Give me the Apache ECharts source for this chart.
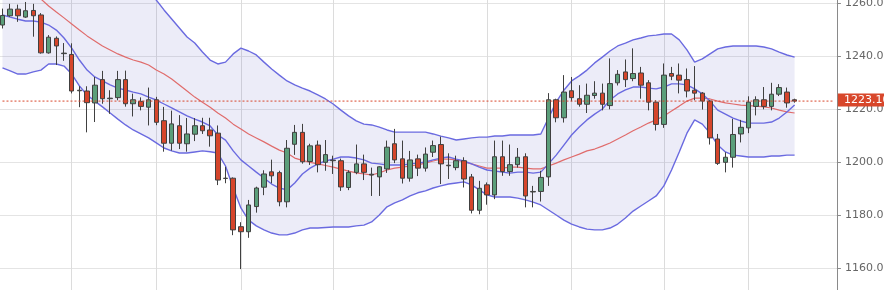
<!DOCTYPE html>
<html><head><meta charset="utf-8">
<script src="https://cdn.jsdelivr.net/npm/echarts@6/dist/echarts.min.js"></script>
<style>html,body{margin:0;padding:0;background:#fff}#c{width:884px;height:290px}</style>
</head><body><div id="c"></div>
<script>
// 104 candles, plus 5 empty slots before the price axis
const categories = Array.from({length: 109}, (_, i) => 'D' + (i + 1));
const gridCategories = ['D10','D21','D32','D44','D64','D75','D87','D98'];
const yTicks = [1140, 1280, 20];

const opens = [1251.8,1255.3,1257.8,1254.8,1257.3,1255.6,1241.3,1246.8,1241.0,1240.7,
1227.0,1226.9,1222.4,1231.2,1224.0,1224.4,1231.2,1222.1,1223.0,1220.8,
1223.6,1215.7,1207.2,1213.8,1207.0,1210.6,1213.8,1212.2,1211.0,1193.9,
1194.0,1175.7,1173.8,1183.3,1190.6,1196.4,1196.1,1185.1,1206.8,1211.3,
1200.3,1206.5,1200.0,1200.6,1200.6,1190.5,1196.2,1199.4,1195.2,1194.5,
1197.5,1207.0,1201.3,1194.0,1201.3,1197.8,1203.8,1206.7,1198.7,1198.0,
1200.6,1194.5,1181.9,1191.5,1187.7,1202.1,1196.5,1199.1,1202.1,1188.8,
1189.0,1194.5,1223.6,1216.8,1227.0,1224.0,1221.9,1225.2,1226.1,1221.4,
1230.0,1234.1,1231.6,1233.7,1230.0,1222.7,1214.3,1233.5,1232.9,1231.2,
1227.2,1226.1,1223.1,1208.8,1200.0,1201.9,1210.7,1213.0,1221.1,1223.6,
1221.1,1225.7,1226.5,1223.6];
const closes = [1255.4,1257.8,1255.3,1257.2,1255.3,1241.3,1247.2,1243.9,1241.2,1226.9,
1227.2,1222.5,1229.1,1224.0,1224.2,1231.2,1222.1,1223.6,1221.1,1223.6,
1215.1,1207.2,1214.5,1207.2,1210.7,1213.8,1211.9,1210.0,1193.3,1194.0,
1174.5,1173.8,1183.9,1190.3,1195.6,1194.9,1185.1,1205.3,1211.3,1200.2,
1206.2,1199.1,1202.9,1200.8,1190.7,1196.2,1199.4,1196.2,1195.5,1198.3,
1205.7,1200.9,1194.0,1200.9,1197.8,1203.1,1206.3,1199.4,1198.9,1200.6,
1193.7,1181.9,1190.2,1187.7,1202.1,1196.5,1199.1,1201.9,1187.3,1189.0,
1194.3,1223.6,1216.8,1226.5,1224.4,1221.9,1225.3,1226.1,1221.9,1229.7,
1233.2,1231.2,1233.5,1229.1,1222.7,1214.3,1232.9,1232.5,1231.0,1226.9,
1226.1,1223.1,1209.2,1199.6,1201.9,1210.5,1213.2,1222.7,1223.6,1221.1,
1225.7,1228.2,1222.4,1223.1];
const lows = [1250.5,1254.9,1253.0,1254.5,1247.4,1241.0,1241.0,1236.7,1238.3,1226.0,
1220.8,1211.3,1215.2,1222.1,1218.3,1223.4,1221.0,1217.3,1219.6,1213.9,
1214.0,1204.0,1204.4,1205.0,1204.0,1208.0,1210.7,1205.9,1191.4,1192.1,
1172.5,1159.7,1171.5,1181.0,1187.6,1192.1,1183.4,1183.0,1202.8,1199.5,
1199.0,1196.2,1196.8,1195.6,1189.2,1189.5,1195.5,1193.3,1187.3,1187.3,
1196.0,1199.7,1192.0,1192.7,1194.8,1196.5,1202.0,1191.8,1193.7,1197.0,
1190.5,1180.7,1180.4,1184.0,1186.1,1194.9,1194.9,1198.0,1183.0,1183.0,
1185.2,1191.1,1215.1,1215.0,1223.0,1221.0,1218.6,1224.0,1219.6,1220.0,
1229.0,1228.4,1230.6,1224.0,1219.6,1212.0,1213.0,1231.0,1226.0,1224.5,
1223.4,1219.9,1206.7,1199.0,1196.2,1198.0,1207.5,1211.0,1217.7,1220.0,
1219.6,1225.0,1220.6,1222.5];
const highs = [1258.0,1259.8,1259.5,1260.5,1259.8,1256.3,1248.0,1247.5,1245.0,1244.9,
1228.7,1228.7,1232.2,1234.5,1227.2,1234.5,1234.6,1225.9,1224.5,1228.2,
1224.7,1220.9,1219.5,1217.8,1216.7,1216.7,1216.8,1216.8,1213.9,1198.3,
1194.3,1177.4,1185.8,1190.8,1197.0,1201.0,1196.8,1208.4,1214.1,1214.5,
1207.0,1208.2,1208.4,1202.5,1201.4,1197.0,1206.7,1202.9,1198.0,1198.5,
1208.2,1212.6,1208.2,1204.3,1202.9,1205.6,1208.2,1209.7,1203.4,1202.5,
1201.9,1195.6,1193.0,1192.4,1208.2,1208.2,1206.7,1205.4,1203.4,1191.1,
1196.8,1226.1,1224.0,1232.9,1232.2,1229.1,1229.7,1230.6,1229.7,1239.2,
1234.8,1238.8,1243.0,1236.0,1231.0,1223.4,1237.3,1236.0,1237.3,1235.4,
1236.3,1226.5,1223.4,1210.7,1203.8,1216.4,1216.0,1224.9,1224.9,1228.4,
1230.0,1229.5,1228.2,1224.0];

const upperBand = [1292,1291,1290,1289,1288,1287,1286,1285,1284,1283,
1281.5,1280,1278.5,1277,1275,1273,1271,1269,1266.5,1264,
1261.2,1257.5,1254.1,1250.7,1247.3,1245.0,1241.6,1238.6,1237.1,1237.8,
1240.9,1243.1,1242.0,1240.5,1237.8,1235.2,1232.9,1230.7,1229.2,1228.0,
1226.9,1225.4,1223.9,1222.0,1219.7,1217.5,1215.6,1214.4,1214.1,1213.3,
1212.2,1211.4,1211.4,1211.4,1211.4,1211.4,1210.7,1209.9,1209.2,1208.4,
1208.8,1209.2,1209.5,1209.5,1209.9,1209.9,1210.3,1210.3,1210.3,1210.3,
1210.7,1216.7,1222.7,1227.2,1230.7,1232.6,1234.8,1237.5,1239.7,1242.0,
1243.9,1245.0,1246.2,1246.9,1247.7,1248.0,1248.4,1248.4,1246.2,1242.4,
1237.8,1239.0,1240.9,1242.8,1243.5,1243.9,1243.9,1243.9,1243.9,1243.5,
1242.8,1241.6,1240.5,1239.7];
const lowerBand = [1235.6,1234.5,1233.3,1233.3,1234.1,1234.8,1237.1,1237.1,1236.3,1233.3,
1228.8,1225.4,1223.1,1220.9,1218.6,1216.3,1214.1,1212.2,1210.7,1209.2,
1207.3,1205.4,1204.3,1203.5,1203.5,1203.9,1204.3,1204.0,1203.5,1198.6,
1190.3,1182.8,1178.2,1176.0,1174.5,1173.3,1172.6,1172.6,1173.3,1174.5,
1175.2,1175.2,1175.4,1175.6,1175.6,1175.6,1176.0,1176.3,1177.5,1180.1,
1183.2,1184.7,1185.8,1187.3,1188.5,1189.2,1190.3,1191.1,1191.8,1192.2,
1192.6,1191.5,1189.6,1187.7,1186.9,1186.9,1186.9,1186.5,1185.8,1185.0,
1183.9,1182.0,1180.1,1178.2,1176.7,1175.6,1174.8,1174.5,1174.5,1175.2,
1176.7,1179.0,1181.6,1183.5,1185.4,1187.3,1191.1,1197.1,1203.9,1211.0,
1216.0,1214.4,1211.0,1206.5,1203.9,1202.7,1202.4,1202.0,1202.0,1202.0,
1202.4,1202.4,1202.7,1202.7];
const middleBand = [1273.3,1271.1,1268.8,1266.5,1264.3,1261.6,1259.0,1256.7,1254.5,1252.2,
1249.9,1247.7,1245.8,1243.9,1242.4,1240.9,1239.7,1238.6,1237.8,1236.7,
1234.8,1233.3,1231.4,1229.2,1226.9,1224.6,1222.7,1220.8,1218.6,1216.7,
1214.4,1212.6,1210.7,1209.2,1207.7,1206.1,1204.6,1203.5,1201.6,1200.7,
1200.0,1199.4,1198.8,1198.2,1197.4,1196.7,1196.0,1195.6,1195.2,1196.0,
1197.1,1197.8,1198.2,1198.6,1199.0,1199.7,1200.5,1201.2,1201.2,1200.9,
1200.1,1199.4,1198.6,1197.8,1197.8,1197.8,1198.2,1198.2,1197.8,1197.5,
1197.5,1198.6,1199.7,1200.9,1202.0,1203.1,1204.3,1205.0,1206.1,1207.3,
1208.8,1210.3,1211.9,1213.3,1214.8,1216.0,1217.5,1219.4,1221.2,1223.1,
1224.2,1224.2,1223.9,1223.1,1222.4,1222.0,1221.6,1221.4,1221.2,1220.9,
1220.5,1219.7,1219.0,1218.6];
const fastMA = [1255.6,1254.8,1254.0,1253.3,1253.3,1252.9,1251.8,1249.9,1246.9,1243.1,
1238.6,1234.8,1232.2,1230.7,1229.2,1228.0,1227.3,1226.5,1225.8,1224.6,
1223.5,1222.0,1220.5,1219.0,1217.5,1216.3,1215.2,1213.7,1210.3,1208.4,
1204.3,1200.9,1198.6,1196.3,1194.1,1191.8,1190.3,1189.6,1192.2,1195.6,
1197.8,1199.4,1200.5,1201.2,1202.0,1202.0,1201.6,1200.9,1199.7,1199.4,
1199.0,1199.0,1199.0,1199.4,1199.7,1200.1,1200.9,1201.6,1202.0,1201.2,
1200.5,1199.4,1198.2,1197.1,1196.7,1196.3,1195.9,1196.3,1196.3,1195.9,
1196.3,1199.4,1202.7,1206.5,1210.3,1213.3,1216.0,1218.2,1220.1,1223.5,
1225.8,1227.3,1228.4,1228.4,1228.0,1227.7,1228.4,1229.6,1229.6,1229.2,
1227.7,1225.8,1223.1,1219.7,1218.2,1216.7,1215.6,1214.8,1214.8,1214.8,
1215.2,1216.7,1219.0,1221.6];

const candleData = opens.map((o, i) => [o, closes[i], lows[i], highs[i]]);
const bandWidth = upperBand.map((u, i) => +(u - lowerBand[i]).toFixed(2));
const lastClose = closes[closes.length - 1];
// the last-price guide runs from the first to the last slot of the axis
const priceGuide = [[categories[0], lastClose], [categories[categories.length - 1], lastClose]];

const BLUE = '#6a6ae0', RED = '#e06c6c', TAG = '#d8472b', FONT = 'DejaVu Sans, Verdana, sans-serif';
const chart = echarts.init(document.getElementById('c'), null, {renderer: 'canvas'});
chart.setOption({
  animation: false,
  backgroundColor: '#ffffff',
  grid: {left: -1.35, right: 47.1, top: -49.7, bottom: -31.3, containLabel: false, outerBoundsMode: 'none'},
  xAxis: {
    type: 'category', data: categories, boundaryGap: true,
    axisLine: {show: false}, axisTick: {show: false}, axisLabel: {show: false}, splitLine: {show: false}
  },
  yAxis: {
    type: 'value', position: 'right', min: yTicks[0], max: yTicks[1], interval: yTicks[2], scale: true,
    axisLine: {show: true, lineStyle: {color: '#8a8a8a', width: 1}},
    axisTick: {show: true, length: 4, lineStyle: {color: '#8a8a8a'}},
    axisLabel: {color: '#666', fontSize: 11, fontFamily: FONT, margin: 8, formatter: v => v.toFixed(2)},
    splitLine: {show: true, lineStyle: {color: '#e4e4e4', width: 1}}
  },
  series: [
    {
      name: 'lower', type: 'line', data: lowerBand, stack: 'bb', symbol: 'none', z: 2,
      lineStyle: {color: BLUE, width: 1.4},
      markLine: {
        silent: true, symbol: 'none', z: 1, label: {show: false},
        lineStyle: {color: '#dcdcdc', type: 'solid', width: 1},
        data: gridCategories.map(c => ({xAxis: c}))
      }
    },
    {
      name: 'upper', type: 'line', data: bandWidth, stack: 'bb', symbol: 'none', z: 2,
      lineStyle: {color: BLUE, width: 1.4},
      areaStyle: {color: 'rgba(115,115,205,0.19)'}
    },
    {name: 'middle', type: 'line', data: middleBand, symbol: 'none', z: 3, lineStyle: {color: RED, width: 1.2}},
    {name: 'fast', type: 'line', data: fastMA, symbol: 'none', z: 3, lineStyle: {color: BLUE, width: 1.4}},
    {
      name: 'price', type: 'candlestick', data: candleData, barWidth: 5, z: 4,
      itemStyle: {color: '#5b9e7a', color0: '#d5452b', borderColor: '#404040', borderColor0: '#404040', borderWidth: 1},
      markLine: {
        silent: true, symbol: ['none', 'none'], z: 10, precision: 2,
        lineStyle: {color: 'rgba(0,0,0,0)', width: 1, type: 'solid'},
        emphasis: {disabled: true},
        label: {
          show: true, position: 'end', distance: 1, formatter: p => Number(p.value).toFixed(2),
          color: '#fff', backgroundColor: TAG, padding: [1, 6, 1, 6], lineHeight: 11,
          fontSize: 11, fontFamily: FONT, offset: [0, -1]
        },
        data: [{yAxis: lastClose}]
      }
    },
    {
      name: 'lastPrice', type: 'line', data: priceGuide, symbol: 'none', silent: true, z: 6,
      lineStyle: {color: TAG, type: [2, 2], width: 1}
    }
  ]
});
</script></body></html>
